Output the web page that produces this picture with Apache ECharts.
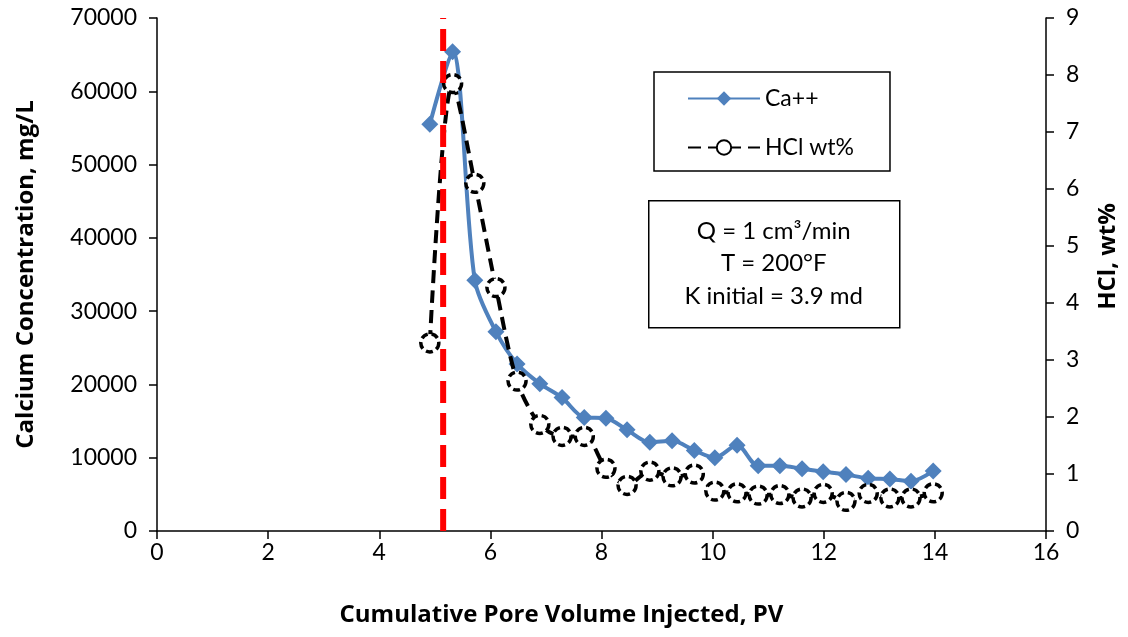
<!DOCTYPE html>
<html>
<head>
<meta charset="utf-8">
<script src="https://cdn.jsdelivr.net/npm/echarts@6/dist/echarts.min.js"></script>
<style>
  html, body { margin: 0; padding: 0; background: #fff; }
  #chart { width: 1128px; height: 637px; }
</style>
</head>
<body>
<div id="chart"></div>
<script>
// pore volumes injected (same sampling for both curves)
const pv = [4.91, 5.32, 5.72, 6.10, 6.48, 6.89, 7.29, 7.69, 8.08, 8.46, 8.87, 9.27,
            9.67, 10.04, 10.44, 10.82, 11.21, 11.61, 11.99, 12.40, 12.80, 13.19, 13.57, 13.97];
// calcium, mg/L
const calcium = [55500, 65400, 34200, 27200, 22800, 20100, 18200, 15500, 15400, 13800, 12100, 12300,
                 11000, 10000, 11700, 8900, 8900, 8500, 8100, 7700, 7200, 7100, 6800, 8200];
// HCl, wt%
const hcl = [3.3, 7.85, 6.1, 4.27, 2.63, 1.87, 1.66, 1.66, 1.1, 0.8, 1.05, 0.95,
             1.0, 0.7, 0.67, 0.63, 0.64, 0.58, 0.66, 0.52, 0.66, 0.58, 0.58, 0.67];
// breakthrough marker
const breakthroughPV = 5.15;
const xTicks = { min: 0, max: 16, step: 2 };
const caTicks = { min: 0, max: 70000, step: 10000 };
const hclTicks = { min: 0, max: 9, step: 1 };
const noteLines = ['Q = 1 cm\u00b3/min', 'T = 200\u00b0F', 'K initial = 3.9 md'];

const FONT = 'Lato';
const TITLE_FONT = 'Open Sans';
const chart = echarts.init(document.getElementById('chart'));

const axisCommon = {
    axisLine: { show: true, onZero: false, lineStyle: { color: '#000', width: 1.5 } },
    axisTick: { show: true, inside: false, length: 8, lineStyle: { color: '#000', width: 1.5 } },
    axisLabel: { color: '#000', fontSize: 23, fontFamily: FONT, formatter: v => String(v) },
    splitLine: { show: false },
    nameLocation: 'middle',
    nameTextStyle: { color: '#000', fontSize: 24, fontWeight: 'bold', fontFamily: TITLE_FONT }
};

const option = {
    animation: false,
    backgroundColor: '#fff',
    grid: { left: 157, right: 82, top: 18, bottom: 106 },
    legend: {
        data: ['Ca++', 'HCl wt%'],
        orient: 'vertical',
        left: 654,
        top: 72,
        padding: [15, 36, 12, 33],
        itemGap: 26,
        itemWidth: 72,
        itemHeight: 18,
        borderColor: '#000',
        borderWidth: 1.5,
        backgroundColor: '#fff',
        textStyle: { color: '#000', fontSize: 23, fontFamily: FONT }
    },
    xAxis: Object.assign({}, axisCommon, {
        type: 'value',
        min: xTicks.min, max: xTicks.max, interval: xTicks.step,
        axisLabel: Object.assign({}, axisCommon.axisLabel, { margin: 10 }),
        name: 'Cumulative Pore Volume Injected, PV',
        nameGap: 72,
        nameTextStyle: Object.assign({}, axisCommon.nameTextStyle, { padding: [0, 80, 0, 0] })
    }),
    yAxis: [
        Object.assign({}, axisCommon, {
            type: 'value',
            position: 'left',
            min: caTicks.min, max: caTicks.max, interval: caTicks.step,
            axisLabel: Object.assign({}, axisCommon.axisLabel, { margin: 20 }),
            name: 'Calcium Concentration, mg/L',
            nameRotate: 90,
            nameGap: 119
        }),
        Object.assign({}, axisCommon, {
            type: 'value',
            position: 'right',
            min: hclTicks.min, max: hclTicks.max, interval: hclTicks.step,
            axisLabel: Object.assign({}, axisCommon.axisLabel, { margin: 20 }),
            name: 'HCl, wt%',
            nameRotate: 90,
            nameGap: 50,
            nameTextStyle: Object.assign({}, axisCommon.nameTextStyle, { padding: [0, 0, 0, 36] })
        })
    ],
    series: [
        {
            name: 'Ca++',
            type: 'line',
            yAxisIndex: 0,
            smooth: 0.3,
            symbol: 'diamond',
            symbolSize: 17,
            lineStyle: { color: '#4F81BD', width: 4 },
            itemStyle: { color: '#4F81BD' },
            data: pv.map((x, i) => [x, calcium[i]]),
            z: 3
        },
        {
            name: 'HCl wt%',
            type: 'line',
            yAxisIndex: 1,
            smooth: 0.3,
            symbol: 'circle',
            symbolSize: 18,
            lineStyle: { color: '#000', width: 4, type: [13, 7] },
            itemStyle: { color: '#fff', borderColor: '#000', borderWidth: 3.5, borderType: [7, 4] },
            data: pv.map((x, i) => [x, hcl[i]]),
            z: 4
        },
        {
            name: 'breakthrough',
            type: 'line',
            yAxisIndex: 0,
            symbol: 'none',
            silent: true,
            lineStyle: { color: '#FF0000', width: 6, type: [22, 10] },
            data: [[breakthroughPV, caTicks.min], [breakthroughPV, caTicks.max]],
            z: 5
        }
    ],
    graphic: [
        {
            type: 'group',
            left: 648,
            top: 200,
            children: [
                {
                    type: 'rect',
                    shape: { x: 0, y: 0, width: 251, height: 127 },
                    style: { fill: '#fff', stroke: '#000', lineWidth: 1.5 }
                },
                {
                    type: 'text',
                    x: 125,
                    y: 63,
                    style: {
                        text: noteLines.join('\n'),
                        align: 'center',
                        verticalAlign: 'middle',
                        lineHeight: 32.5,
                        fontSize: 24,
                        fontFamily: FONT,
                        fill: '#000'
                    }
                }
            ]
        }
    ]
};

chart.setOption(option);
</script>
</body>
</html>
